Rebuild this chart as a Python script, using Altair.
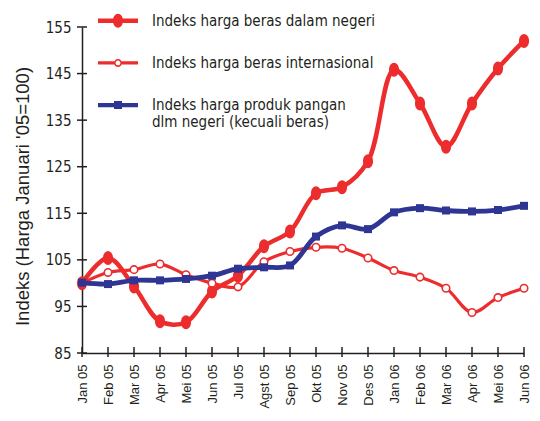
import altair as alt
import pandas as pd

months = ["Jan 05", "Feb 05", "Mar 05", "Apr 05", "Mei 05", "Jun 05", "Jul 05", "Agst 05",
          "Sep 05", "Okt 05", "Nov 05", "Des 05", "Jan 06", "Feb 06", "Mar 06", "Apr 06",
          "Mei 06", "Jun 06"]
domestic = [100.0, 105.4, 99.3, 91.8, 91.6, 98.2, 101.6, 107.9, 111.1, 119.3, 120.6, 126.2,
            145.8, 138.6, 129.3, 138.6, 146.1, 152.0]
international = [100.0, 102.3, 102.9, 104.1, 101.8, 100.0, 99.2, 104.6, 106.8, 107.7, 107.5,
                 105.4, 102.7, 101.3, 98.9, 93.7, 96.9, 98.9]
food = [100.1, 99.8, 100.6, 100.6, 100.9, 101.6, 103.1, 103.4, 103.8, 110.0, 112.4, 111.6,
        115.2, 116.1, 115.6, 115.4, 115.7, 116.6]
series_names = ["Indeks harga beras dalam negeri",
                "Indeks harga beras internasional",
                "Indeks harga produk pangan dlm negeri (kecuali beras)"]
y_ticks = [85, 95, 105, 115, 125, 135, 145, 155]

RED = "#EC2C2D"
BLUE = "#2E3593"
INK = "#231F20"
NARROW = "Liberation Sans Narrow, DejaVu Sans Condensed, sans-serif"
REGULAR = "Liberation Sans, Arial, sans-serif"

rows = []
for name, vals in zip(series_names, [domestic, international, food]):
    for m, v in zip(months, vals):
        rows.append({"month": m, "series": name, "value": v})
df = pd.DataFrame(rows)

x_axis = alt.Axis(title=None, labelAngle=270, labelAlign="right", labelBaseline="middle",
                  labelPadding=11, labelFont=REGULAR, labelFontSize=13, labelColor=INK,
                  ticks=False, grid=False, domainColor=INK, domainWidth=1.5)
y_axis = alt.Axis(title="Indeks (Harga Januari '05=100)", values=y_ticks, labelFont=NARROW,
                  labelFontSize=15, labelColor=INK, labelPadding=11, ticks=False, grid=False,
                  domainColor=INK, domainWidth=1.5, titleFont=REGULAR, titleFontSize=18.5,
                  titleFontWeight="normal", titleColor=INK, titleX=-60, titleY=169,
                  titleAlign="center", titleBaseline="middle", titleAngle=270)

x_enc = alt.X("month:O", sort=months, scale=alt.Scale(type="point", padding=0), axis=x_axis)
y_enc = alt.Y("value:Q", scale=alt.Scale(domain=[85, 155], nice=False, zero=False), axis=y_axis)

base = alt.Chart(df).encode(x=x_enc, y=y_enc)

xt = alt.Chart(pd.DataFrame({"month": months})).mark_tick(
    orient="vertical", thickness=1.5, size=10, color=INK, opacity=1
).encode(x=x_enc, y=alt.value(325))
yt = alt.Chart(pd.DataFrame({"value": y_ticks})).mark_tick(
    orient="horizontal", thickness=1.5, size=10, color=INK, opacity=1
).encode(y=y_enc, x=alt.value(0))

def sel(name):
    return alt.datum.series == name

dom_line = base.transform_filter(sel(series_names[0])).mark_line(
    interpolate="catmull-rom", strokeWidth=4.5, color=RED)
dom_pts = base.transform_filter(sel(series_names[0])).mark_point(
    shape="M-0.72,0A0.72,1 0 1,1 0.72,0A0.72,1 0 1,1 -0.72,0Z", size=196,
    filled=True, color=RED, opacity=1)
int_line = base.transform_filter(sel(series_names[1])).mark_line(
    interpolate="catmull-rom", strokeWidth=3.2, color=RED)
int_pts = base.transform_filter(sel(series_names[1])).mark_point(
    shape="circle", size=56, filled=True, fill="white", stroke=RED, strokeWidth=1.6, opacity=1)
food_line = base.transform_filter(sel(series_names[2])).mark_line(
    interpolate="catmull-rom", strokeWidth=4.8, color=BLUE)
food_pts = base.transform_filter(sel(series_names[2])).mark_point(
    shape="square", size=64, filled=True, color=BLUE, opacity=1)

sym_paths = [
    "M-1,-0.11L1,-0.11L1,0.11L-1,0.11Z M-0.25,0A0.25,0.35 0 1,1 0.25,0A0.25,0.35 0 1,1 -0.25,0Z",
    "M-1,-0.08L-0.19,-0.08L-0.19,0.08L-1,0.08Z M0.19,-0.08L1,-0.08L1,0.08L0.19,0.08Z "
    "M-0.2,0A0.2,0.2 0 1,1 0.2,0A0.2,0.2 0 1,1 -0.2,0Z "
    "M-0.12,0A0.12,0.12 0 1,0 0.12,0A0.12,0.12 0 1,0 -0.12,0Z",
    "M-1,-0.11L1,-0.11L1,0.11L-1,0.11Z M-0.2,-0.2L0.2,-0.2L0.2,0.2L-0.2,0.2Z",
]

label_expr = ("datum.label == '" + series_names[2] + "' ? ['Indeks harga produk pangan', "
              "'dlm negeri (kecuali beras)'] : datum.label")

def make_legend():
    return alt.Legend(title=None, orient="none", legendX=16, legendY=-26.3, padding=0,
                      symbolSize=1600, symbolStrokeWidth=0, symbolOpacity=1,
                      labelFont=NARROW, labelFontSize=15, labelColor=INK, labelLimit=500,
                      labelOffset=14, rowPadding=14.2, labelExpr=label_expr)

legend_layer = alt.Chart(df).transform_filter("false").mark_point(filled=True).encode(
    x=x_enc, y=y_enc,
    color=alt.Color("series:N", scale=alt.Scale(domain=series_names, range=[RED, RED, BLUE]),
                    legend=make_legend()),
    shape=alt.Shape("series:N", scale=alt.Scale(domain=series_names, range=sym_paths),
                    legend=make_legend()),
)

chart = alt.layer(xt, yt, dom_line, int_line, dom_pts, int_pts, food_line, food_pts,
                  legend_layer).properties(
    width=442, height=326,
    autosize=alt.AutoSizeParams(type="none"),
    padding={"left": 74, "top": 19, "right": 8, "bottom": 56},
    background="white",
).configure_view(stroke=None)

chart.save("out.html", embed_options={"renderer": "svg", "actions": False})
